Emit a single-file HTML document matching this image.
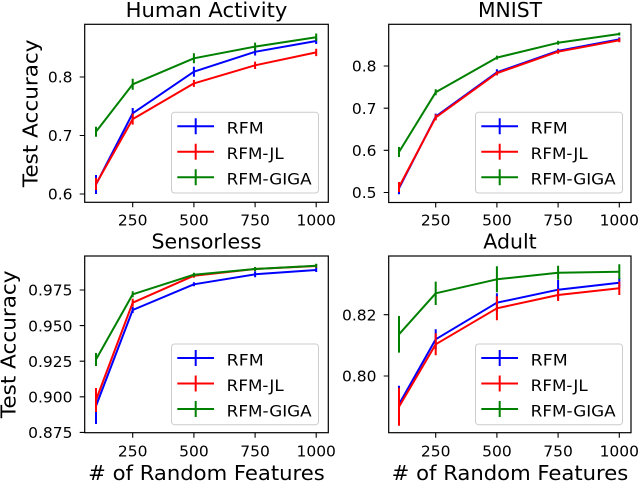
<!DOCTYPE html>
<html><head><meta charset="utf-8"><style>
html,body{margin:0;padding:0;background:#fff;}
svg{display:block;}
text{font-family:"DejaVu Sans","Liberation Sans",sans-serif;fill:#000;}
.t{font-size:15.5px;}
.lg{font-size:16px;}
.big{font-size:20.5px;}
</style></head><body>
<svg width="640" height="483" viewBox="0 0 640 483" xmlns="http://www.w3.org/2000/svg">
<rect width="640" height="483" fill="#fff"/>

<!-- ===== Panel 1: Human Activity ===== -->
<g fill="none" stroke-width="2" stroke-linejoin="round">
  <g stroke="#0000ff">
    <path d="M96,175 V194 M132.7,108 V118.6 M193.9,66.7 V76.7 M255.1,48.1 V55.5 M316.2,38 V44"/>
    <polyline points="96,184.5 132.7,113.3 193.9,71.7 255.1,51.8 316.2,41"/>
  </g>
  <g stroke="#ff0000">
    <path d="M96,178 V190 M132.7,113.6 V124.6 M193.9,79.9 V86.9 M255.1,61.6 V69 M316.2,48.7 V56.1"/>
    <polyline points="96,184 132.7,119.1 193.9,83.4 255.1,65.3 316.2,52.4"/>
  </g>
  <g stroke="#008000">
    <path d="M96,126.7 V136.7 M132.7,78.8 V89.8 M193.9,53.3 V63.3 M255.1,42.6 V50.6 M316.2,33.5 V40.9"/>
    <polyline points="96,131.7 132.7,84.3 193.9,58.3 255.1,46.6 316.2,37.2"/>
  </g>
</g>
<rect x="84.7" y="24.3" width="243.6" height="178" fill="none" stroke="#000" stroke-width="1.2"/>
<g stroke="#000" stroke-width="1.1">
  <path d="M132.7,202.3 v5 M193.9,202.3 v5 M255.1,202.3 v5 M316.2,202.3 v5"/>
  <path d="M84.7,194 h-5 M84.7,135.5 h-5 M84.7,77 h-5"/>
</g>
<g class="t" text-anchor="middle">
  <text x="132.7" y="225.5">250</text><text x="193.9" y="225.5">500</text><text x="255.1" y="225.5">750</text><text x="316.2" y="225.5">1000</text>
</g>
<g class="t" text-anchor="end">
  <text x="72.5" y="199.7">0.6</text><text x="72.5" y="141.2">0.7</text><text x="72.5" y="82.7">0.8</text>
</g>
<text class="big" x="206.5" y="17" text-anchor="middle" textLength="161.7" lengthAdjust="spacingAndGlyphs">Human Activity</text>
<text class="big" transform="translate(37.3,113.3) rotate(-90)" text-anchor="middle" textLength="147.6" lengthAdjust="spacingAndGlyphs">Test Accuracy</text>
<g>
  <rect x="171.5" y="112.3" width="147" height="80.7" rx="3" ry="3" fill="#fff" fill-opacity="0.8" stroke="#cccccc" stroke-width="1"/>
  <g stroke-width="2" fill="none">
    <path stroke="#0000ff" d="M177.3,126.3 H214 M195.7,118.3 V134.3"/>
    <path stroke="#ff0000" d="M177.3,151.8 H214 M195.7,143.8 V159.8"/>
    <path stroke="#008000" d="M177.3,177.3 H214 M195.7,169.3 V185.3"/>
  </g>
  <g class="lg">
    <text x="226.7" y="133.6" textLength="37" lengthAdjust="spacingAndGlyphs">RFM</text>
    <text x="226.7" y="159.1" textLength="57" lengthAdjust="spacingAndGlyphs">RFM-JL</text>
    <text x="226.7" y="184.6" textLength="85" lengthAdjust="spacingAndGlyphs">RFM-GIGA</text>
  </g>
</g>

<!-- ===== Panel 2: MNIST ===== -->
<g fill="none" stroke-width="2" stroke-linejoin="round">
  <g stroke="#0000ff">
    <path d="M399,182.3 V194.3 M435.7,113.6 V119.6 M496.9,69.3 V75.3 M558.1,48.8 V52.8 M619.3,37.4 V41.4"/>
    <polyline points="399,188.3 435.7,116.6 496.9,72.3 558.1,50.8 619.3,39.4"/>
  </g>
  <g stroke="#ff0000">
    <path d="M399,182 V192 M435.7,114.4 V120.4 M496.9,71.2 V75.2 M558.1,49.7 V53.7 M619.3,38.3 V42.3"/>
    <polyline points="399,187 435.7,117.4 496.9,73.2 558.1,51.7 619.3,40.3"/>
  </g>
  <g stroke="#008000">
    <path d="M399,147 V157 M435.7,89.3 V95.3 M496.9,55.6 V59.6 M558.1,40.8 V44.8 M619.3,32.5 V35.5"/>
    <polyline points="399,152 435.7,92.3 496.9,57.6 558.1,42.8 619.3,34"/>
  </g>
</g>
<rect x="388.7" y="24.3" width="242.3" height="178.2" fill="none" stroke="#000" stroke-width="1.2"/>
<g stroke="#000" stroke-width="1.1">
  <path d="M435.7,202.5 v5 M496.9,202.5 v5 M558.1,202.5 v5 M619.3,202.5 v5"/>
  <path d="M388.7,192.5 h-5 M388.7,150.3 h-5 M388.7,108.2 h-5 M388.7,66 h-5"/>
</g>
<g class="t" text-anchor="middle">
  <text x="435.7" y="225.5">250</text><text x="496.9" y="225.5">500</text><text x="558.1" y="225.5">750</text><text x="619.3" y="225.5">1000</text>
</g>
<g class="t" text-anchor="end">
  <text x="376.5" y="198.2">0.5</text><text x="376.5" y="156">0.6</text><text x="376.5" y="113.9">0.7</text><text x="376.5" y="71.7">0.8</text>
</g>
<text class="big" x="510" y="17" text-anchor="middle" textLength="64" lengthAdjust="spacingAndGlyphs">MNIST</text>
<g transform="translate(304,0)">
  <rect x="171.5" y="112.3" width="147" height="80.7" rx="3" ry="3" fill="#fff" fill-opacity="0.8" stroke="#cccccc" stroke-width="1"/>
  <g stroke-width="2" fill="none">
    <path stroke="#0000ff" d="M177.3,126.3 H214 M195.7,118.3 V134.3"/>
    <path stroke="#ff0000" d="M177.3,151.8 H214 M195.7,143.8 V159.8"/>
    <path stroke="#008000" d="M177.3,177.3 H214 M195.7,169.3 V185.3"/>
  </g>
  <g class="lg">
    <text x="226.7" y="133.6" textLength="37" lengthAdjust="spacingAndGlyphs">RFM</text>
    <text x="226.7" y="159.1" textLength="57" lengthAdjust="spacingAndGlyphs">RFM-JL</text>
    <text x="226.7" y="184.6" textLength="85" lengthAdjust="spacingAndGlyphs">RFM-GIGA</text>
  </g>
</g>

<!-- ===== Panel 3: Sensorless ===== -->
<g fill="none" stroke-width="2" stroke-linejoin="round">
  <g stroke="#0000ff">
    <path d="M96,388 V424 M132.7,307 V313 M193.9,282.3 V286.3 M255.1,271.3 V277.3 M316.2,268 V272"/>
    <polyline points="96,406 132.7,310 193.9,284.3 255.1,274.3 316.2,270"/>
  </g>
  <g stroke="#ff0000">
    <path d="M96,388 V412 M132.7,298.7 V306.7 M193.9,273.7 V277.7 M255.1,267 V271 M316.2,264 V268"/>
    <polyline points="96,400 132.7,302.7 193.9,275.7 255.1,269 316.2,266"/>
  </g>
  <g stroke="#008000">
    <path d="M96,353 V366 M132.7,291.3 V297.3 M193.9,272.7 V276.7 M255.1,267 V271 M316.2,263.7 V267.7"/>
    <polyline points="96,359.5 132.7,294.3 193.9,274.7 255.1,269 316.2,265.7"/>
  </g>
</g>
<rect x="84.7" y="256" width="243.6" height="176.7" fill="none" stroke="#000" stroke-width="1.2"/>
<g stroke="#000" stroke-width="1.1">
  <path d="M132.7,432.7 v5 M193.9,432.7 v5 M255.1,432.7 v5 M316.2,432.7 v5"/>
  <path d="M84.7,432.4 h-5 M84.7,396.8 h-5 M84.7,361.2 h-5 M84.7,325.6 h-5 M84.7,290 h-5"/>
</g>
<g class="t" text-anchor="middle">
  <text x="132.7" y="456.5">250</text><text x="193.9" y="456.5">500</text><text x="255.1" y="456.5">750</text><text x="316.2" y="456.5">1000</text>
</g>
<g class="t" text-anchor="end">
  <text x="72.5" y="438.1">0.875</text><text x="72.5" y="402.5">0.900</text><text x="72.5" y="366.9">0.925</text><text x="72.5" y="331.3">0.950</text><text x="72.5" y="295.7">0.975</text>
</g>
<text class="big" x="206.5" y="248.7" text-anchor="middle">Sensorless</text>
<text class="big" transform="translate(15.5,344.3) rotate(-90)" text-anchor="middle" textLength="147.6" lengthAdjust="spacingAndGlyphs">Test Accuracy</text>
<text class="big" x="206.5" y="480" text-anchor="middle" textLength="236.6" lengthAdjust="spacingAndGlyphs"># of Random Features</text>
<g transform="translate(0,231.7)">
  <rect x="171.5" y="112.3" width="147" height="80.7" rx="3" ry="3" fill="#fff" fill-opacity="0.8" stroke="#cccccc" stroke-width="1"/>
  <g stroke-width="2" fill="none">
    <path stroke="#0000ff" d="M177.3,126.3 H214 M195.7,118.3 V134.3"/>
    <path stroke="#ff0000" d="M177.3,151.8 H214 M195.7,143.8 V159.8"/>
    <path stroke="#008000" d="M177.3,177.3 H214 M195.7,169.3 V185.3"/>
  </g>
  <g class="lg">
    <text x="226.7" y="133.6" textLength="37" lengthAdjust="spacingAndGlyphs">RFM</text>
    <text x="226.7" y="159.1" textLength="57" lengthAdjust="spacingAndGlyphs">RFM-JL</text>
    <text x="226.7" y="184.6" textLength="85" lengthAdjust="spacingAndGlyphs">RFM-GIGA</text>
  </g>
</g>

<!-- ===== Panel 4: Adult ===== -->
<g fill="none" stroke-width="2" stroke-linejoin="round">
  <g stroke="#0000ff">
    <path d="M399,385.7 V422.9 M435.7,329.3 V349.3 M496.9,293.3 V312.1 M558.1,280 V299.4 M619.3,277.7 V287.7"/>
    <polyline points="399,404.3 435.7,339.3 496.9,302.7 558.1,289.7 619.3,282.7"/>
  </g>
  <g stroke="#ff0000">
    <path d="M399,387.7 V425.7 M435.7,333.3 V355.3 M496.9,296.3 V320.3 M558.1,289 V301 M619.3,281.6 V295"/>
    <polyline points="399,406.7 435.7,344.3 496.9,308.3 558.1,295 619.3,288.3"/>
  </g>
  <g stroke="#008000">
    <path d="M399,316 V352.6 M435.7,281.6 V305 M496.9,266.3 V292.3 M558.1,265.7 V279.7 M619.3,264.2 V279.2"/>
    <polyline points="399,334.3 435.7,293.3 496.9,279.3 558.1,272.7 619.3,271.7"/>
  </g>
</g>
<rect x="388.7" y="256" width="242.3" height="176.7" fill="none" stroke="#000" stroke-width="1.2"/>
<g stroke="#000" stroke-width="1.1">
  <path d="M435.7,432.7 v5 M496.9,432.7 v5 M558.1,432.7 v5 M619.3,432.7 v5"/>
  <path d="M388.7,376 h-5 M388.7,314.7 h-5"/>
</g>
<g class="t" text-anchor="middle">
  <text x="435.7" y="456.5">250</text><text x="496.9" y="456.5">500</text><text x="558.1" y="456.5">750</text><text x="619.3" y="456.5">1000</text>
</g>
<g class="t" text-anchor="end">
  <text x="376.5" y="381.7">0.80</text><text x="376.5" y="320.4">0.82</text>
</g>
<text class="big" x="510" y="248.7" text-anchor="middle">Adult</text>
<text class="big" x="510" y="480" text-anchor="middle" textLength="236.6" lengthAdjust="spacingAndGlyphs"># of Random Features</text>
<g transform="translate(304,231.7)">
  <rect x="171.5" y="112.3" width="147" height="80.7" rx="3" ry="3" fill="#fff" fill-opacity="0.8" stroke="#cccccc" stroke-width="1"/>
  <g stroke-width="2" fill="none">
    <path stroke="#0000ff" d="M177.3,126.3 H214 M195.7,118.3 V134.3"/>
    <path stroke="#ff0000" d="M177.3,151.8 H214 M195.7,143.8 V159.8"/>
    <path stroke="#008000" d="M177.3,177.3 H214 M195.7,169.3 V185.3"/>
  </g>
  <g class="lg">
    <text x="226.7" y="133.6" textLength="37" lengthAdjust="spacingAndGlyphs">RFM</text>
    <text x="226.7" y="159.1" textLength="57" lengthAdjust="spacingAndGlyphs">RFM-JL</text>
    <text x="226.7" y="184.6" textLength="85" lengthAdjust="spacingAndGlyphs">RFM-GIGA</text>
  </g>
</g>
</svg>
</body></html>
